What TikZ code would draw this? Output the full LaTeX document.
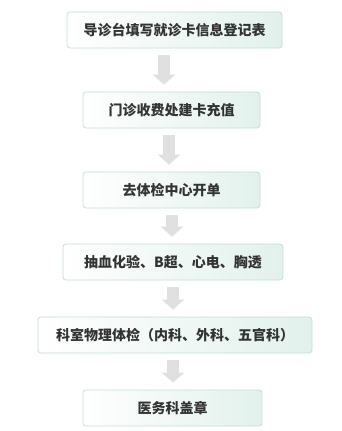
\documentclass[tikz,border=0pt]{standalone}
\usepackage{fontspec}
\setmainfont{Noto Sans CJK SC}
\usetikzlibrary{arrows.meta}
\definecolor{boxline}{HTML}{C6DDD5}
\definecolor{boxmint}{HTML}{E2F1EC}
\definecolor{arrowgray}{HTML}{E0E0E0}
\definecolor{textgray}{HTML}{333333}

\begin{document}
\begin{tikzpicture}[x=1pt,y=1pt]
\tikzset{flowbox/.style={draw=boxline,line width=0.8pt,rounded corners=3pt,left color=white,right color=boxmint,minimum height=36pt,inner sep=0pt,text=textgray,font=\fontsize{14pt}{16pt}\selectfont\bfseries},
  downarrow/.style={draw=arrowgray,line width=12pt,-{Triangle[width=22pt,length=10pt]}}};
\useasboundingbox (0,0) rectangle (341,-431);
    \node[flowbox,minimum width=215pt] (b1) at (174.5,-30) {导诊台填写就诊卡信息登记表};
    \node[flowbox,minimum width=177pt] (b2) at (171.5,-110) {门诊收费处建卡充值};
    \node[flowbox,minimum width=177pt] (b3) at (171.5,-190) {去体检中心开单};
    \node[flowbox,minimum width=220pt] (b4) at (173,-262) {抽血化验、B超、心电、胸透};
    \node[flowbox,minimum width=274pt] (b5) at (175,-335) {科室物理体检（内科、外科、五官科）};
    \node[flowbox,minimum width=179pt] (b6) at (172.5,-408) {医务科盖章};
    \foreach \from/\to/\dx in {b1/b2/-10.5,b2/b3/-2.5,b3/b4/0.5,b4/b5/0,b5/b6/-2}
      \draw[downarrow] ([xshift=\dx pt,yshift=-7pt]\from.south) coordinate (s) -- ([yshift=7pt]s |- \to.north);
\end{tikzpicture}
\end{document}
